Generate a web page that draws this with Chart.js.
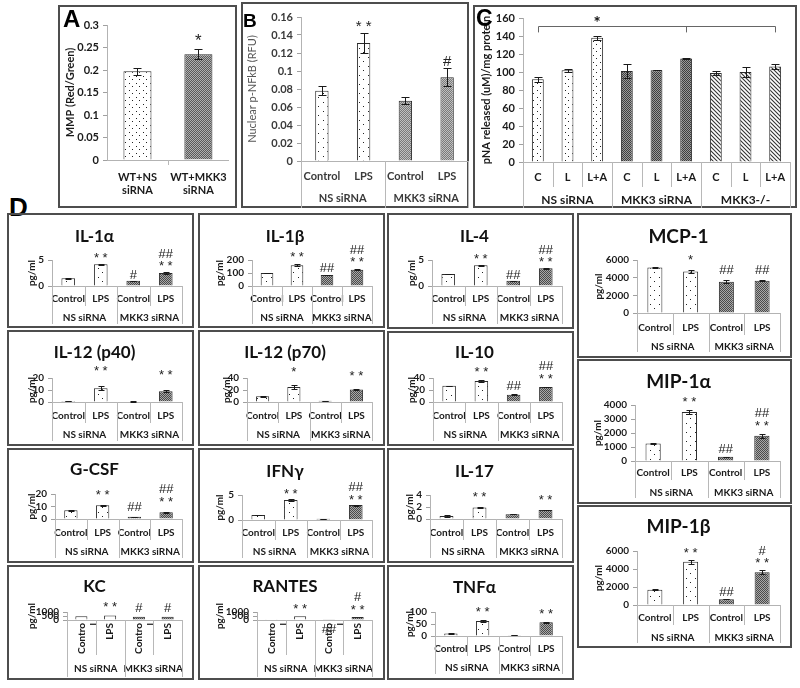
<!DOCTYPE html>
<html>
<head>
<meta charset="utf-8">
<script src="https://cdn.jsdelivr.net/npm/chart.js@4.4.1/dist/chart.umd.min.js"></script>
<style>
  body { margin: 0; width: 800px; height: 688px; background: #fff; position: relative; overflow: hidden; }
  .panel { position: absolute; outline: 2px solid #4d4d4d; outline-offset: -2px; }
  .panel canvas { position: absolute; left: 0; top: 0; }
  .tag { position: absolute; font-family: "Liberation Sans", Arial, sans-serif; font-weight: bold; color: #000; line-height: 1; }
</style>
</head>
<body>
<script>
Chart.defaults.font.family = 'Lato, "Open Sans", sans-serif';
Chart.defaults.color = '#1a1a1a';

// ---- A ----
const catsA = [['WT+NS', 'siRNA'], ['WT+MKK3', 'siRNA']];
const valsA = [0.197, 0.235];
const errA = [0.008, 0.011];
const sigA = ['', '*'];
const ticksA = [0, 0.05, 0.1, 0.15, 0.2, 0.25, 0.3];

// ---- B ----
const catsB = ['Control', 'LPS', 'Control', 'LPS'];
const groupsB = ['NS siRNA', 'MKK3 siRNA'];
const valsB = [0.078, 0.131, 0.067, 0.093];
const errB = [0.005, 0.011, 0.004, 0.01];
const sigB = ['', '**', '', '#'];
const ticksB = [0, 0.02, 0.04, 0.06, 0.08, 0.1, 0.12, 0.14, 0.16];

// ---- C ----
const catsC = ['C', 'L', 'L+A', 'C', 'L', 'L+A', 'C', 'L', 'L+A'];
const groupsC = ['NS siRNA', 'MKK3 siRNA', 'MKK3-/-'];
const valsC = [92, 102, 138, 101, 102, 115, 99, 100, 106];
const errC = [3, 1.5, 2, 8, 0.3, 0.6, 2, 6, 3];
const sigC = ['', '', '', '', '', '', '', '', ''];
const ticksC = [0, 20, 40, 60, 80, 100, 120, 140, 160];
const bracketBarsC = [0, 5, 8];
const bracketValsC = [151, 144, 155]; // line, tick ends, star

// ---- D ----
const catsD = ['Control', 'LPS', 'Control', 'LPS'];
const catsWrapD = [['Contro', 'l'], 'LPS', ['Contro', 'l'], 'LPS'];
const groupsD = ['NS siRNA', 'MKK3 siRNA'];

const il1a = [1.5, 4.2, 1.0, 2.5];
const il1aErr = [0.1, 0.1, 0.05, 0.15];
const il1aSig = ['', '**', '#', '##\n**'];
const il1aTicks = [0, 5];

const il1b = [100, 160, 85, 125];
const il1bErr = [3, 8, 2, 4];
const il1bSig = ['', '**', '##', '##\n**'];
const il1bTicks = [0, 100, 200];

const il4 = [2.3, 4.0, 1.0, 3.4];
const il4Err = [0.05, 0.1, 0.05, 0.05];
const il4Sig = ['', '**', '##', '##\n**'];
const il4Ticks = [0, 5];

const mcp1 = [5150, 4700, 3550, 3650];
const mcp1Err = [60, 120, 200, 80];
const mcp1Sig = ['', '*', '##', '##'];
const mcp1Ticks = [0, 2000, 4000, 6000];

const il12p40 = [0.8, 11.5, 0.4, 9];
const il12p40Err = [0.2, 1.5, 0.1, 0.7];
const il12p40Sig = ['', '**', '', '**'];
const il12p40Ticks = [0, 10, 20];

const il12p70 = [9.5, 25, 2, 21];
const il12p70Err = [0.5, 3, 0.3, 1.5];
const il12p70Sig = ['', '*', '', '**'];
const il12p70Ticks = [0, 20, 40];

const il10 = [27, 35, 12, 25];
const il10Err = [0.5, 1.5, 0.8, 0.6];
const il10Sig = ['', '**', '##', '##\n**'];
const il10Ticks = [0, 20, 40];

const mip1a = [1250, 3500, 300, 1800];
const mip1aErr = [30, 150, 20, 150];
const mip1aSig = ['', '**', '##', '##\n**'];
const mip1aTicks = [0, 1000, 2000, 3000, 4000];

const gcsf = [7, 11, 1.8, 5.5];
const gcsfErr = [0.3, 0.4, 0.2, 0.3];
const gcsfSig = ['', '**', '##', '##\n**'];
const gcsfTicks = [0, 10, 20];

const ifng = [1.0, 4.0, 0.25, 3.0];
const ifngErr = [0.05, 0.15, 0.03, 0.1];
const ifngSig = ['', '**', '', '##\n**'];
const ifngTicks = [0, 5];

const il17 = [0.5, 1.9, 0.8, 1.5];
const il17Err = [0.1, 0.1, 0.03, 0.05];
const il17Sig = ['', '**', '', '**'];
const il17Ticks = [0, 2, 4];

const mip1b = [1700, 4800, 650, 3650];
const mip1bErr = [50, 200, 30, 200];
const mip1bSig = ['', '**', '##', '#\n**'];
const mip1bTicks = [0, 2000, 4000, 6000];

const kc = [480, 560, 400, 400];
const kcErr = [0, 0, 0, 0];
const kcSig = ['', '**', '#', '#'];
const kcTicks = [0, 500, 1000];

const rantes = [30, 480, 40, 380];
const rantesErr = [0, 0, 0, 0];
const rantesSig = ['', '**', '##', '#\n**'];
const rantesTicks = [0, 500, 1000];

const tnfa = [10, 62, 3, 57];
const tnfaErr = [0.5, 3, 0.3, 3];
const tnfaSig = ['', '**', '', '**'];
const tnfaTicks = [0, 50, 100];

// fills
function dotFill(step) {
  const c = document.createElement('canvas');
  c.width = c.height = step;
  const g = c.getContext('2d');
  g.fillStyle = '#fff'; g.fillRect(0, 0, step, step);
  g.fillStyle = '#222';
  const h = Math.floor(step / 2);
  g.fillRect(1, 1, 1, 1);
  g.fillRect(1 + h, 1 + h, 1, 1);
  return g.createPattern(c, 'repeat');
}
function hatchFill(dark, light) {
  const c = document.createElement('canvas');
  c.width = c.height = 2;
  const g = c.getContext('2d');
  g.fillStyle = light; g.fillRect(0, 0, 2, 2);
  g.fillStyle = dark; g.fillRect(0, 0, 1, 1); g.fillRect(1, 1, 1, 1);
  return g.createPattern(c, 'repeat');
}
function stripeFill() {
  const c = document.createElement('canvas');
  c.width = c.height = 4;
  const g = c.getContext('2d');
  g.fillStyle = '#fff'; g.fillRect(0, 0, 4, 4);
  g.strokeStyle = '#333'; g.lineWidth = 1.1;
  [-4, 0, 4].forEach(k => { g.beginPath(); g.moveTo(k - 1, -1); g.lineTo(k + 5, 5); g.stroke(); });
  return g.createPattern(c, 'repeat');
}
const dots7 = dotFill(7), dots9 = dotFill(9);
const hatchA = hatchFill('#5a5a5a', '#b0b0b0');
const hatchB = hatchFill('#7a7a7a', '#c0c0c0');
const hatchC = hatchFill('#3e3e3e', '#9a9a9a');
const hatchD = hatchFill('#4a4a4a', '#a8a8a8');
const stripes = stripeFill();
const fillsD = [dots9, dots9, hatchD, hatchD];

function makeChart(p) {
  const [bx, by, bw, bh] = p.box;
  const L = p.plot[0] - bx, T = p.plot[1] - by, R = p.plot[2] - bx, B = p.plot[3] - by;
  const wrap = document.createElement('div');
  wrap.className = 'panel';
  wrap.style.left = bx + 'px'; wrap.style.top = by + 'px';
  wrap.style.width = bw + 'px'; wrap.style.height = bh + 'px';
  const cv = document.createElement('canvas');
  cv.width = bw; cv.height = bh;
  wrap.appendChild(cv);
  document.body.appendChild(wrap);

  const tf = p.tickFont || 10;
  const gf = p.groupFont || tf;
  const tc = p.tickColor || '#1a1a1a';
  const row1 = p.rows[0] - by;
  const row2 = p.rows[1] != null ? p.rows[1] - by : null;
  const h1 = p.h1 || (row2 != null ? Math.round((row1 + row2) / 2 - B) : bh - B);
  const tsz = p.titleSize || 17, tlh = tsz * 1.2;
  const tcy = p.title ? p.titleY - by : 0;
  const ytf = p.yTitleFont || 10;

  const scales = {
    x: {
      offset: true,
      grid: { display: false, drawTicks: false },
      border: { color: '#b3b3b3' },
      ticks: {
        autoSkip: false,
        maxRotation: p.rotate ? 90 : 0, minRotation: p.rotate ? 90 : 0,
        padding: p.rotate ? 3 : row1 - B - tf * 0.6,
        font: { size: tf, weight: 'bold' }, color: tc
      },
      afterFit: s => { s.height = h1; }
    },
    y: {
      min: 0, max: p.ticks[p.ticks.length - 1],
      afterBuildTicks: s => { s.ticks = p.ticks.map(v => ({ value: v })); },
      grid: { drawOnChartArea: false, tickLength: 4, color: '#a0a0a0' },
      border: { color: '#b3b3b3' },
      ticks: { autoSkip: false, padding: 4, font: { size: p.yTickFont || tf, weight: 'bold' }, color: tc, callback: v => String(v) },
      title: {
        display: true, text: p.yTitle || 'pg/ml', color: p.yTitleColor || '#1a1a1a',
        font: { size: ytf, weight: p.yTitleWeight || 'bold' },
        padding: { top: p.ytx - bx - ytf * 0.6, bottom: 0 }
      },
      afterFit: s => { s.width = L; }
    }
  };
  if (p.groups) {
    scales.xg = {
      type: 'category', labels: p.groups, position: 'bottom', offset: true, weight: 1,
      grid: { display: false, drawTicks: false }, border: { display: false },
      ticks: { autoSkip: false, maxRotation: 0, padding: row2 - B - h1 - gf * 0.6, font: { size: gf, weight: 'bold' }, color: tc },
      afterFit: s => { s.height = bh - B - h1; }
    };
  }

  const extras = {
    id: 'extras',
    afterDatasetsDraw(chart) {
      const ctx = chart.ctx, ys = chart.scales.y;
      const bars = chart.getDatasetMeta(0).data;
      const cap = p.cap || 3;
      ctx.save();
      ctx.strokeStyle = '#1a1a1a'; ctx.lineWidth = 1;
      p.vals.forEach((v, i) => {
        const e = p.err[i];
        if (!e) return;
        const x = Math.round(bars[i].x) + 0.5;
        const y1 = Math.round(ys.getPixelForValue(v + e)) + 0.5;
        const y2 = Math.round(ys.getPixelForValue(v - e)) + 0.5;
        ctx.beginPath();
        ctx.moveTo(x, y1); ctx.lineTo(x, y2);
        ctx.moveTo(x - cap, y1); ctx.lineTo(x + cap, y1);
        ctx.moveTo(x - cap, y2); ctx.lineTo(x + cap, y2);
        ctx.stroke();
      });
      ctx.fillStyle = '#222'; ctx.textAlign = 'center'; ctx.textBaseline = 'alphabetic';
      ctx.font = (p.sigFont || 14) + 'px "Liberation Sans", Arial, sans-serif';
      p.sig.forEach((s, i) => {
        if (!s) return;
        const lines = s.split('\n');
        let base = ys.getPixelForValue(p.vals[i] + (p.err[i] || 0)) - p.gap + (p.sigDy ? p.sigDy[i] : 0);
        for (let k = lines.length - 1; k >= 0; k--) {
          ctx.fillText(lines[k].split('').join(lines[k][0] === '*' ? ' ' : ''), bars[i].x, base);
          base -= 12.5;
        }
      });
      if (p.bracket) {
        const [lineV, tickV, starV] = p.bracketVals;
        const yl = Math.round(ys.getPixelForValue(lineV)) + 0.5;
        const yt = ys.getPixelForValue(tickV);
        const xs = p.bracket.map(i => Math.round(bars[i].x) + 0.5);
        ctx.strokeStyle = '#666';
        ctx.beginPath();
        ctx.moveTo(xs[0], yl); ctx.lineTo(xs[xs.length - 1], yl);
        xs.forEach(x => { ctx.moveTo(x, yl); ctx.lineTo(x, yt); });
        ctx.stroke();
        ctx.font = 'bold 17px Lato';
        ctx.fillStyle = '#111';
        ctx.fillText('*', bars[p.bracketStar].x, ys.getPixelForValue(starV) + 6);
      }
      ctx.restore();
    },
    afterDraw(chart) {
      const ctx = chart.ctx, xs = chart.scales.x, n = p.cats.length;
      const per = p.groups ? n / p.groups.length : n;
      const top = chart.chartArea.bottom;
      ctx.save();
      ctx.strokeStyle = '#b8b8b8'; ctx.lineWidth = 1;
      for (let i = 0; i <= n; i++) {
        const edge = i % per === 0;
        const end = edge ? p.ends[1] : p.ends[0];
        if (end == null) continue;
        const px = i === 0 ? xs.left : i === n ? xs.right
          : (xs.getPixelForValue(i - 1) + xs.getPixelForValue(i)) / 2;
        const x = Math.round(px) + 0.5;
        ctx.beginPath();
        ctx.moveTo(x, top); ctx.lineTo(x, end - by);
        ctx.stroke();
      }
      ctx.restore();
    }
  };

  new Chart(cv, {
    type: 'bar',
    data: {
      labels: p.cats,
      datasets: [{
        data: p.vals, xAxisID: 'x', yAxisID: 'y',
        backgroundColor: p.fills, borderColor: '#2b2b2b', borderWidth: 1,
        barPercentage: p.barPct || 0.42, categoryPercentage: 1
      }]
    },
    options: {
      responsive: false, animation: false,
      layout: { padding: { top: p.title ? 0 : T, right: bw - R, left: 0, bottom: 0 } },
      plugins: {
        legend: { display: false }, tooltip: { enabled: false },
        title: p.title ? {
          display: true, text: p.title, color: '#111',
          font: { size: tsz, weight: 'bold' },
          padding: { top: tcy - tlh / 2, bottom: T - tcy - tlh / 2 }
        } : { display: false }
      },
      scales
    },
    plugins: [extras]
  });
}

function addTag(text, x, y, size) {
  const d = document.createElement('div');
  d.className = 'tag';
  d.textContent = text;
  d.style.left = x + 'px'; d.style.top = y + 'px'; d.style.fontSize = size + 'px';
  document.body.appendChild(d);
}

// panel A
makeChart({
  box: [58, 5, 179, 203], plot: [107, 25, 237, 160],
  cats: catsA, vals: valsA, err: errA, sig: sigA, ticks: ticksA,
  fills: [dots7, hatchA], barPct: 0.46, gap: 3, sigFont: 17, cap: 4,
  rows: [177], ends: [165, null], tickFont: 11,
  yTitle: 'MMP (Red/Green)', yTitleFont: 11, ytx: 70
});
// panel B
makeChart({
  box: [241, 2, 228, 206], plot: [301, 17, 468, 161],
  cats: catsB, groups: groupsB, vals: valsB, err: errB, sig: sigB, ticks: ticksB,
  fills: [dots9, dots9, hatchB, hatchB], barPct: 0.32, gap: 2, sigFont: 15, cap: 4,
  rows: [176, 198], ends: [null, 208], tickFont: 11, yTickFont: 11, tickColor: '#3a3a3a',
  yTitle: 'Nuclear p-NFkB (RFU)', yTitleFont: 11, yTitleWeight: 'normal', yTitleColor: '#555', ytx: 252
});
// panel C
makeChart({
  box: [473, 5, 324, 203], plot: [523, 18, 790, 162],
  cats: catsC, groups: groupsC, vals: valsC, err: errC, sig: sigC, ticks: ticksC,
  fills: [dots7, dots7, dots7, hatchC, hatchC, hatchC, stripes, stripes, stripes],
  barPct: 0.4, gap: 2, cap: 4,
  bracket: bracketBarsC, bracketVals: bracketValsC, bracketStar: 2,
  rows: [177, 200], ends: [187, 208], tickFont: 11, groupFont: 12,
  yTitle: 'pNA released (uM)/mg protein', yTitleFont: 11, ytx: 486
});

addTag('A', 63, 7, 24);
addTag('B', 243, 11, 19);
addTag('C', 476, 7, 23);
addTag('D', 9, 194, 26);

// panel D
const panelsD = [
  { title: 'IL-1α', vals: il1a, err: il1aErr, sig: il1aSig, ticks: il1aTicks,
    box: [7, 213, 187, 115], plot: [52, 260, 182, 286], titleY: 237, rows: [299, 318], ends: [306, 324], ytx: 32, gap: 2 },
  { title: 'IL-1β', vals: il1b, err: il1bErr, sig: il1bSig, ticks: il1bTicks,
    box: [198, 213, 187, 115], plot: [252, 260, 372, 286], titleY: 237, rows: [299, 318], ends: [306, 324], ytx: 220, gap: 3 },
  { title: 'IL-4', vals: il4, err: il4Err, sig: il4Sig, ticks: il4Ticks,
    box: [387, 213, 187, 116], plot: [432, 260, 562, 286], titleY: 237, rows: [299, 318], ends: [306, 324], ytx: 412, gap: 2 },
  { title: 'MCP-1', vals: mcp1, err: mcp1Err, sig: mcp1Sig, ticks: mcp1Ticks, titleSize: 19,
    box: [577, 213, 215, 145], plot: [637, 260, 780, 313], titleY: 237, rows: [328, 347], ends: [335, 352], ytx: 599, gap: 6 },
  { title: 'IL-12 (p40)', vals: il12p40, err: il12p40Err, sig: il12p40Sig, ticks: il12p40Ticks,
    box: [7, 330, 187, 116], plot: [52, 378, 182, 402], titleY: 353, rows: [416, 435], ends: [423, 441], ytx: 32, gap: 11 },
  { title: 'IL-12 (p70)', vals: il12p70, err: il12p70Err, sig: il12p70Sig, ticks: il12p70Ticks,
    box: [198, 330, 187, 116], plot: [247, 378, 372, 402], titleY: 353, rows: [416, 435], ends: [423, 441], ytx: 227, gap: 9 },
  { title: 'IL-10', vals: il10, err: il10Err, sig: il10Sig, ticks: il10Ticks,
    box: [387, 331, 187, 115], plot: [433, 378, 562, 402], titleY: 353, rows: [416, 435], ends: [423, 441], ytx: 412, gap: 4 },
  { title: 'MIP-1α', vals: mip1a, err: mip1aErr, sig: mip1aSig, ticks: mip1aTicks, titleSize: 19,
    box: [577, 359, 215, 145], plot: [635, 405, 780, 461], titleY: 382, rows: [473, 493], ends: [480, 498], ytx: 598, gap: 4 },
  { title: 'G-CSF', vals: gcsf, err: gcsfErr, sig: gcsfSig, ticks: gcsfTicks,
    box: [7, 448, 187, 115], plot: [55, 494, 182, 519], titleY: 470, rows: [533, 552], ends: [540, 558], ytx: 32, gap: 6 },
  { title: 'IFNγ', vals: ifng, err: ifngErr, sig: ifngSig, ticks: ifngTicks,
    box: [198, 448, 187, 115], plot: [242, 495, 372, 520], titleY: 472, rows: [533, 552], ends: [540, 558], ytx: 220, gap: 1 },
  { title: 'IL-17', vals: il17, err: il17Err, sig: il17Sig, ticks: il17Ticks,
    box: [387, 448, 187, 115], plot: [430, 495, 562, 519], titleY: 472, rows: [533, 552], ends: [540, 558], ytx: 410, gap: 6 },
  { title: 'MIP-1β', vals: mip1b, err: mip1bErr, sig: mip1bSig, ticks: mip1bTicks, titleSize: 19,
    box: [577, 505, 215, 143], plot: [637, 551, 780, 605], titleY: 527, rows: [618, 638], ends: [625, 643], ytx: 599, gap: 3 },
  { title: 'KC', vals: kc, err: kcErr, sig: kcSig, ticks: kcTicks, rotate: true, h1: 40,
    box: [7, 565, 187, 115], plot: [67, 612, 182, 620], titleY: 587, rows: [623, 669], ends: [655, 677], ytx: 32, gap: 5 },
  { title: 'RANTES', vals: rantes, err: rantesErr, sig: rantesSig, ticks: rantesTicks, rotate: true, h1: 40,
    sigDy: [0, 0, 16, 0],
    box: [198, 565, 187, 115], plot: [257, 612, 372, 620], titleY: 587, rows: [623, 669], ends: [655, 677], ytx: 220, gap: 3 },
  { title: 'TNFα', vals: tnfa, err: tnfaErr, sig: tnfaSig, ticks: tnfaTicks,
    box: [387, 565, 187, 115], plot: [435, 612, 562, 636], titleY: 588, rows: [649, 668], ends: [656, 674], ytx: 410, gap: 4 }
];

panelsD.forEach(p => {
  makeChart(Object.assign({
    cats: p.rotate ? catsWrapD : catsD, groups: groupsD, fills: fillsD, barPct: 0.42, sigFont: 13
  }, p));
});
</script>
</body>
</html>
